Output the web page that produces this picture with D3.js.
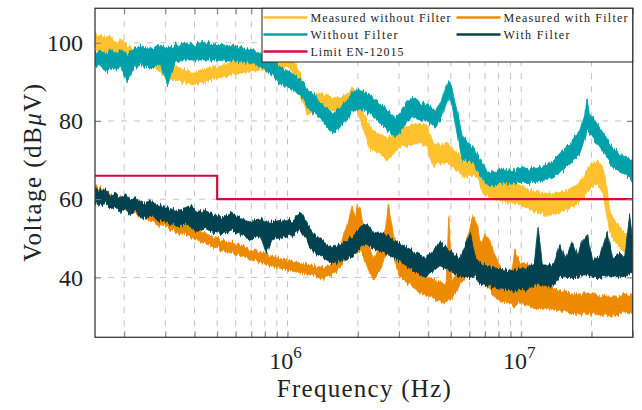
<!DOCTYPE html>
<html>
<head>
<meta charset="utf-8">
<script src="https://cdn.jsdelivr.net/npm/d3@7"></script>
<style>
  body { margin: 0; background: #fff; }
  text { font-family: "Liberation Serif", "Times New Roman", serif; fill: #222; }
</style>
</head>
<body>
<svg id="chart" width="642" height="410"></svg>
<script>
// data: [frequency (MHz), band low (dBuV), band high (dBuV)]
var measNoFilter = [
  [0.15, 98.5, 102.5], [0.158, 97.6, 101.7], [0.166, 96.8, 101.2], [0.175, 97.4, 101.5],
  [0.184, 96.1, 100.2], [0.193, 96.6, 100.7], [0.203, 95.6, 99.4], [0.213, 95.0, 98.6],
  [0.235, 94.5, 98.0], [0.259, 94.0, 97.6], [0.286, 92.5, 96.0], [0.306, 91.0, 94.8],
  [0.331, 90.4, 94.0], [0.366, 89.7, 93.0], [0.39, 89.2, 92.2], [0.424, 89.7, 93.0],
  [0.468, 90.4, 93.8], [0.516, 91.0, 94.0], [0.569, 91.7, 95.0], [0.628, 92.2, 95.6],
  [0.693, 92.5, 96.0], [0.765, 93.0, 96.0], [0.844, 92.5, 95.6], [0.931, 93.5, 96.8],
  [1.0, 94.0, 98.0], [1.06, 92.2, 95.6], [1.133, 86.0, 92.0], [1.21, 82.0, 86.0],
  [1.29, 82.0, 86.6], [1.38, 82.7, 87.0], [1.52, 82.7, 86.0], [1.68, 82.7, 86.0],
  [1.91, 84.5, 88.4], [2.0, 82.7, 86.6], [2.08, 79.0, 82.7], [2.26, 72.5, 78.4],
  [2.44, 72.0, 76.8], [2.66, 69.9, 75.8], [2.83, 71.2, 76.3], [3.03, 73.3, 78.4],
  [3.35, 73.8, 78.9], [3.69, 74.3, 79.4], [3.95, 73.3, 78.9], [4.2, 68.1, 74.3],
  [4.49, 69.2, 73.8], [4.83, 69.2, 74.3], [5.21, 67.4, 72.5], [5.75, 65.6, 69.9],
  [6.04, 66.1, 71.2], [6.5, 65.6, 70.7], [6.85, 61.4, 66.6], [7.35, 60.4, 65.6],
  [8.11, 59.7, 64.8], [8.95, 58.9, 64.3], [9.5, 58.9, 64.0], [10.4, 57.9, 63.0],
  [11.1, 57.1, 62.2], [12.3, 56.3, 61.7], [13.3, 55.8, 61.4], [14.6, 56.6, 61.7],
  [15.6, 57.1, 62.2], [17.0, 58.3, 63.5], [18.3, 60.2, 65.3], [19.7, 62.7, 68.6],
  [21.1, 64.0, 69.9], [22.4, 61.4, 68.0], [23.3, 55.8, 62.2], [24.0, 51.2, 57.0],
  [25.2, 49.4, 54.5], [26.4, 47.6, 52.7], [27.8, 46.3, 51.4], [30.0, 44.3, 49.4]
];

var measWithFilter = [
  [0.15, 61.7, 63.5], [0.158, 61.0, 63.0], [0.175, 59.1, 61.4], [0.193, 57.9, 60.4],
  [0.213, 56.6, 59.1], [0.242, 55.5, 58.0], [0.27, 53.7, 56.6], [0.306, 52.7, 55.5],
  [0.338, 51.5, 54.5], [0.375, 50.4, 53.3], [0.41, 49.4, 52.0], [0.468, 48.1, 50.7],
  [0.53, 46.8, 49.4], [0.61, 45.8, 48.4], [0.693, 44.8, 47.4], [0.79, 43.5, 46.1],
  [0.9, 42.5, 45.0], [1.027, 41.7, 44.3], [1.17, 41.0, 43.5], [1.31, 40.4, 43.0],
  [1.42, 39.7, 42.5], [1.52, 40.4, 43.2], [1.63, 41.7, 44.8], [1.73, 43.7, 50.6],
  [1.85, 46.8, 55.8], [1.89, 46.8, 58.3], [1.95, 46.8, 55.0], [1.99, 46.3, 58.3],
  [2.05, 46.8, 57.8], [2.1, 45.5, 53.2], [2.2, 42.5, 49.4], [2.33, 39.1, 45.0],
  [2.49, 41.7, 48.1], [2.62, 45.5, 52.4], [2.7, 46.8, 58.8], [2.83, 45.5, 51.9],
  [3.03, 39.9, 45.0], [3.45, 37.4, 42.5], [3.9, 35.3, 40.0], [4.49, 34.0, 39.1],
  [4.77, 34.0, 38.6], [4.9, 34.5, 55.8], [5.06, 34.8, 39.1], [5.47, 37.9, 43.0],
  [5.9, 40.4, 50.6], [6.22, 41.7, 55.8], [6.5, 40.4, 53.2], [6.66, 39.7, 48.6],
  [7.0, 38.6, 51.4], [7.35, 36.6, 49.4], [7.72, 34.8, 45.5], [8.11, 34.0, 42.9],
  [8.5, 33.5, 40.4], [8.95, 33.2, 39.1], [9.4, 32.7, 46.8], [9.87, 33.2, 43.7],
  [10.6, 32.7, 43.7], [11.1, 32.2, 41.7], [12.0, 31.9, 43.7], [13.0, 31.9, 37.9],
  [14.6, 31.5, 36.6], [17.3, 30.6, 35.8], [20.3, 30.6, 35.8], [24.7, 30.1, 34.8],
  [27.0, 30.9, 35.6], [30.0, 31.1, 35.8]
];

var noFilter = [
  [0.15, 93.8, 97.4], [0.158, 94.3, 98.1], [0.166, 92.5, 96.8], [0.175, 93.5, 98.1],
  [0.184, 93.0, 97.6], [0.193, 94.0, 98.1], [0.206, 90.0, 96.8], [0.22, 93.5, 98.6],
  [0.235, 94.3, 98.9], [0.259, 93.5, 98.6], [0.286, 94.5, 99.1], [0.306, 89.2, 98.6],
  [0.331, 95.0, 99.4], [0.358, 95.6, 99.9], [0.403, 95.6, 99.6], [0.445, 95.6, 100.2],
  [0.491, 95.6, 99.6], [0.542, 95.3, 99.4], [0.598, 95.3, 99.1], [0.66, 95.0, 98.6],
  [0.728, 94.5, 98.1], [0.803, 93.0, 96.8], [0.86, 91.7, 96.0], [0.931, 89.2, 93.8],
  [1.027, 88.4, 92.5], [1.133, 86.1, 90.4], [1.21, 84.0, 88.6], [1.29, 82.0, 87.1],
  [1.38, 80.9, 84.5], [1.48, 78.1, 82.7], [1.57, 76.8, 82.0], [1.68, 78.4, 83.5],
  [1.85, 81.4, 86.6], [2.0, 83.5, 88.4], [2.17, 82.2, 87.1], [2.37, 80.9, 85.8],
  [2.62, 78.1, 83.2], [2.89, 75.8, 80.9], [3.03, 77.1, 82.0], [3.27, 80.2, 85.3],
  [3.45, 80.9, 86.1], [3.69, 80.2, 84.5], [3.95, 80.2, 84.5], [4.28, 78.4, 82.7],
  [4.58, 80.9, 85.3], [4.86, 86.1, 90.4], [5.06, 84.0, 88.4], [5.31, 76.8, 82.7],
  [5.6, 69.9, 76.3], [5.92, 69.9, 74.5], [6.22, 69.2, 73.3], [6.66, 66.1, 70.4],
  [7.14, 63.5, 66.9], [7.72, 63.7, 67.4], [8.69, 64.0, 67.4], [9.87, 64.3, 67.9],
  [11.67, 64.3, 67.9], [13.26, 65.3, 69.2], [14.64, 66.6, 71.7], [16.15, 69.2, 74.3],
  [17.8, 71.7, 77.6], [18.7, 75.1, 81.4], [19.1, 77.6, 86.1], [19.66, 76.8, 82.0],
  [21.07, 74.3, 79.4], [22.8, 71.2, 76.3], [24.66, 68.1, 73.3], [27.0, 66.9, 71.2],
  [30.0, 64.8, 69.9]
];

var withFilter = [
  [0.15, 58.9, 62.7], [0.158, 58.4, 62.2], [0.166, 58.9, 62.7], [0.175, 57.6, 60.9],
  [0.184, 57.9, 61.7], [0.193, 56.6, 60.2], [0.203, 57.6, 61.4], [0.213, 55.8, 59.7],
  [0.223, 57.1, 60.4], [0.242, 55.0, 58.9], [0.259, 55.8, 59.7], [0.27, 55.0, 58.9],
  [0.3, 54.0, 57.9], [0.338, 53.3, 57.1], [0.366, 53.3, 57.6], [0.39, 52.5, 58.4],
  [0.41, 51.5, 56.6], [0.445, 52.5, 57.1], [0.48, 51.5, 56.1], [0.53, 51.2, 55.3],
  [0.57, 52.0, 56.6], [0.63, 50.7, 55.0], [0.693, 50.1, 54.5], [0.765, 50.4, 55.0],
  [0.81, 46.0, 53.9], [0.86, 49.4, 53.9], [0.96, 50.1, 54.5], [1.05, 50.7, 54.5],
  [1.11, 52.0, 56.3], [1.15, 51.5, 56.6], [1.19, 49.9, 54.5], [1.25, 47.6, 52.7],
  [1.33, 46.0, 50.6], [1.42, 45.0, 49.4], [1.57, 43.5, 47.6], [1.68, 44.2, 48.4],
  [1.85, 45.0, 50.1], [2.05, 47.6, 52.7], [2.2, 48.6, 53.7], [2.33, 47.6, 51.9],
  [2.66, 46.0, 51.0], [3.03, 44.2, 48.6], [3.45, 41.7, 46.8], [3.9, 40.0, 45.0],
  [4.49, 43.0, 48.9], [4.96, 41.7, 46.8], [5.47, 40.0, 45.0], [6.04, 40.0, 51.4],
  [6.34, 40.4, 45.5], [6.66, 38.3, 43.5], [7.6, 37.4, 42.5], [8.95, 36.6, 41.7],
  [10.6, 36.6, 42.5], [11.4, 37.9, 43.7], [11.8, 38.6, 53.2], [12.3, 37.9, 43.2],
  [13.26, 37.4, 43.2], [13.9, 38.3, 43.7], [14.6, 40.0, 48.6], [15.4, 40.0, 45.0],
  [16.6, 40.0, 48.9], [17.4, 40.0, 45.5], [18.2, 40.4, 49.4], [19.2, 40.4, 51.2],
  [20.3, 40.0, 44.2], [21.7, 40.0, 45.5], [23.3, 40.4, 51.9], [24.7, 40.0, 44.7],
  [26.4, 40.4, 46.3], [27.7, 40.0, 45.0], [29.1, 41.2, 55.8], [30.0, 41.2, 49.4]
];

// limit EN-12015: [frequency (MHz), dBuV]
var limitLine = [[0.15, 66], [0.5, 66], [0.5, 60], [30, 60]];

var yTicks = [40, 60, 80, 100];
var xTickLabels = [[1e6, "6"], [1e7, "7"]];

var legendItems = [
  {name: "Measured without Filter", color: "#ffc12e", col: 0, row: 0, w: 140},
  {name: "Measured with Filter",    color: "#ee8a00", col: 1, row: 0, w: 124},
  {name: "Without Filter",          color: "#00a1aa", col: 0, row: 1, w: 87},
  {name: "With Filter",             color: "#00434f", col: 1, row: 1, w: 66},
  {name: "Limit EN-12015",          color: "#d6083f", col: 0, row: 2, w: 93}
];

// layout
var svg = d3.select("#chart");
var plotL = 95, plotR = 632.7, plotT = 8.3, plotB = 337.3;

var x = d3.scaleLog().domain([1.5e5, 3e7]).range([plotL, plotR]);
var y = d3.scaleLinear().domain([24.7, 108.8]).range([plotB, plotT]);

var defs = svg.append("defs");
defs.append("clipPath").attr("id", "plotclip")
   .append("rect")
   .attr("x", plotL).attr("y", plotT)
   .attr("width", plotR - plotL).attr("height", plotB - plotT);

// rough the band edges so they read like a dense noisy trace
var fuzz = defs.append("filter").attr("id", "fuzz")
   .attr("x", "-2%").attr("y", "-10%").attr("width", "104%").attr("height", "120%");
fuzz.append("feTurbulence")
   .attr("type", "fractalNoise").attr("baseFrequency", "0.55 0.015")
   .attr("numOctaves", 2).attr("seed", 7).attr("result", "t");
fuzz.append("feColorMatrix")
   .attr("in", "t").attr("type", "matrix")
   .attr("values", "1 0 0 0 0  0 0 0 0 0.5  0 0 0 0 0  0 0 0 0 1")
   .attr("result", "m");
fuzz.append("feDisplacementMap")
   .attr("in", "SourceGraphic").attr("in2", "m")
   .attr("scale", 9).attr("xChannelSelector", "G").attr("yChannelSelector", "R");

// grid
var grid = svg.append("g");
grid.selectAll("line.vx")
    .data(x.ticks().filter(function(d) { return d < 3e7; }))
    .enter().append("line")
    .attr("x1", function(d) { return x(d); })
    .attr("x2", function(d) { return x(d); })
    .attr("y1", plotT).attr("y2", plotB)
    .attr("stroke", "#c4c4c4").attr("stroke-width", 1)
    .attr("stroke-dasharray", "6,7");
grid.selectAll("line.hy")
    .data(yTicks)
    .enter().append("line")
    .attr("x1", plotL).attr("x2", plotR)
    .attr("y1", function(d) { return y(d); })
    .attr("y2", function(d) { return y(d); })
    .attr("stroke", "#c4c4c4").attr("stroke-width", 1)
    .attr("stroke-dasharray", "6,7");

// bands
var band = d3.area()
    .x(function(d) { return x(d[0] * 1e6); })
    .y0(function(d) { return y(d[1]); })
    .y1(function(d) { return y(d[2]); });

var plot = svg.append("g").attr("clip-path", "url(#plotclip)");
var series = [
  [measNoFilter, legendItems[0].color],
  [measWithFilter, legendItems[1].color],
  [noFilter, legendItems[2].color],
  [withFilter, legendItems[3].color]
];
series.forEach(function(s) {
  plot.append("g").attr("filter", "url(#fuzz)")
      .append("path")
      .datum(s[0])
      .attr("d", band)
      .attr("fill", s[1])
      .attr("stroke", s[1])
      .attr("stroke-width", 0.8)
      .attr("stroke-linejoin", "round");
});

plot.append("path")
    .datum(limitLine)
    .attr("d", d3.line()
        .x(function(d) { return x(d[0] * 1e6); })
        .y(function(d) { return y(d[1]); }))
    .attr("fill", "none")
    .attr("stroke", legendItems[4].color)
    .attr("stroke-width", 2.2);

// axes (ticks point inward)
function styleAxis(g) {
  g.select(".domain").remove();
  g.selectAll(".tick line").attr("stroke", "#808080").attr("stroke-width", 1);
}
var xt = x.ticks();
svg.append("g").attr("transform", "translate(0," + plotB + ")")
   .call(d3.axisBottom(x).tickValues(xt).tickSize(-6).tickFormat(""))
   .call(styleAxis);
svg.append("g").attr("transform", "translate(0," + plotT + ")")
   .call(d3.axisTop(x).tickValues(xt).tickSize(-6).tickFormat(""))
   .call(styleAxis);
svg.append("g").attr("transform", "translate(" + plotL + ",0)")
   .call(d3.axisLeft(y).tickValues(yTicks).tickSize(-6).tickPadding(12))
   .call(styleAxis)
   .selectAll("text")
   .style("font-size", "24px").style("font-family", "Liberation Serif").attr("fill", "#222");
svg.append("g").attr("transform", "translate(" + plotR + ",0)")
   .call(d3.axisRight(y).tickValues(yTicks).tickSize(-6).tickFormat(""))
   .call(styleAxis);

// frame
svg.append("rect")
   .attr("x", plotL).attr("y", plotT)
   .attr("width", plotR - plotL).attr("height", plotB - plotT)
   .attr("fill", "none").attr("stroke", "#3a3a3a").attr("stroke-width", 1.3);

// x tick labels 10^n
xTickLabels.forEach(function(t) {
  var lab = svg.append("text")
      .attr("x", x(t[0]) - 2).attr("y", 369)
      .attr("text-anchor", "middle")
      .style("font-size", "24px");
  lab.append("tspan").text("10");
  lab.append("tspan").attr("dy", -11).style("font-size", "17px").text(t[1]);
});

// axis labels
svg.append("text")
   .attr("x", (plotL + plotR) / 2).attr("y", 397)
   .attr("text-anchor", "middle")
   .attr("textLength", 174).attr("lengthAdjust", "spacing")
   .style("font-size", "25px")
   .text("Frequency (Hz)");

var ylab = svg.append("text")
   .attr("transform", "translate(41," + ((plotT + plotB) / 2) + ") rotate(-90)")
   .attr("text-anchor", "middle")
   .attr("textLength", 178).attr("lengthAdjust", "spacing")
   .style("font-size", "25px");
ylab.append("tspan").text("Voltage (dB");
ylab.append("tspan").style("font-style", "italic").text("μ");
ylab.append("tspan").text("V)");

// legend
var lg = svg.append("g");
lg.append("rect")
  .attr("x", 262).attr("y", plotT)
  .attr("width", plotR - 262).attr("height", 62 - plotT)
  .attr("fill", "#fff").attr("stroke", "#222").attr("stroke-width", 1);
var colX = [263.5, 456.5];
var rowY = [17.5, 34.5, 51.5];
lg.selectAll("line.item")
  .data(legendItems)
  .enter().append("line")
  .attr("x1", function(d) { return colX[d.col]; })
  .attr("x2", function(d) { return colX[d.col] + 44; })
  .attr("y1", function(d) { return rowY[d.row]; })
  .attr("y2", function(d) { return rowY[d.row]; })
  .attr("stroke", function(d) { return d.color; })
  .attr("stroke-width", 2.6);
lg.selectAll("text.item")
  .data(legendItems)
  .enter().append("text")
  .attr("x", function(d) { return colX[d.col] + 47; })
  .attr("y", function(d) { return rowY[d.row] + 4; })
  .attr("textLength", function(d) { return d.w; })
  .attr("lengthAdjust", "spacing")
  .style("font-size", "12px")
  .text(function(d) { return d.name; });
</script>
</body>
</html>
